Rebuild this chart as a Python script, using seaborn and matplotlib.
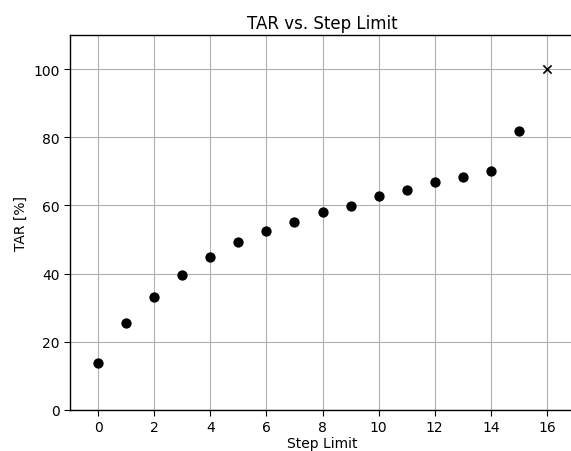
import matplotlib
matplotlib.use("Agg")
import matplotlib.pyplot as plt
import seaborn as sns
import pandas as pd

step_limit = list(range(16))
tar = [13.9, 25.5, 33.2, 39.7, 44.8, 49.4, 52.6, 55.2, 58.0, 59.9, 62.7, 64.5, 66.9, 68.4, 70.2, 81.7]
ref_step = [16]
ref_tar = [100]

sns.set_style("ticks")
plt.rcParams['font.family'] = ['DejaVu Sans']
plt.rcParams['text.color'] = 'black'
plt.rcParams['axes.labelcolor'] = 'black'

fig = plt.figure(figsize=(5.71, 4.52), dpi=100)
ax = fig.add_axes([70/571, 41/452, 505/571, 375/452])

df = pd.DataFrame({"Step Limit": step_limit, "TAR": tar})
sns.scatterplot(data=df, x="Step Limit", y="TAR", ax=ax, color="black",
                s=55, edgecolor="black", linewidth=0, zorder=3)
sns.scatterplot(x=ref_step, y=ref_tar, ax=ax, color="black", marker="x",
                s=35, linewidth=1.2, zorder=3)

ax.set_xlim(-1, 17)
ax.set_ylim(0, 110)
ax.set_xticks(range(0, 17, 2))
ax.set_yticks(range(0, 101, 20))
ax.grid(True, color="#b0b0b0", linewidth=0.8)
ax.set_axisbelow(True)
for s in ax.spines.values():
    s.set_color("black")
    s.set_linewidth(1.0)
ax.spines["right"].set_visible(False)
ax.tick_params(colors="black", labelsize=10, direction="out", length=4)
ax.set_title("TAR vs. Step Limit", fontsize=12, color="black", pad=5)
ax.set_xlabel("Step Limit", fontsize=10, labelpad=1)
ax.set_ylabel("TAR [%]", fontsize=10)

fig.savefig("out.png", dpi=100)
